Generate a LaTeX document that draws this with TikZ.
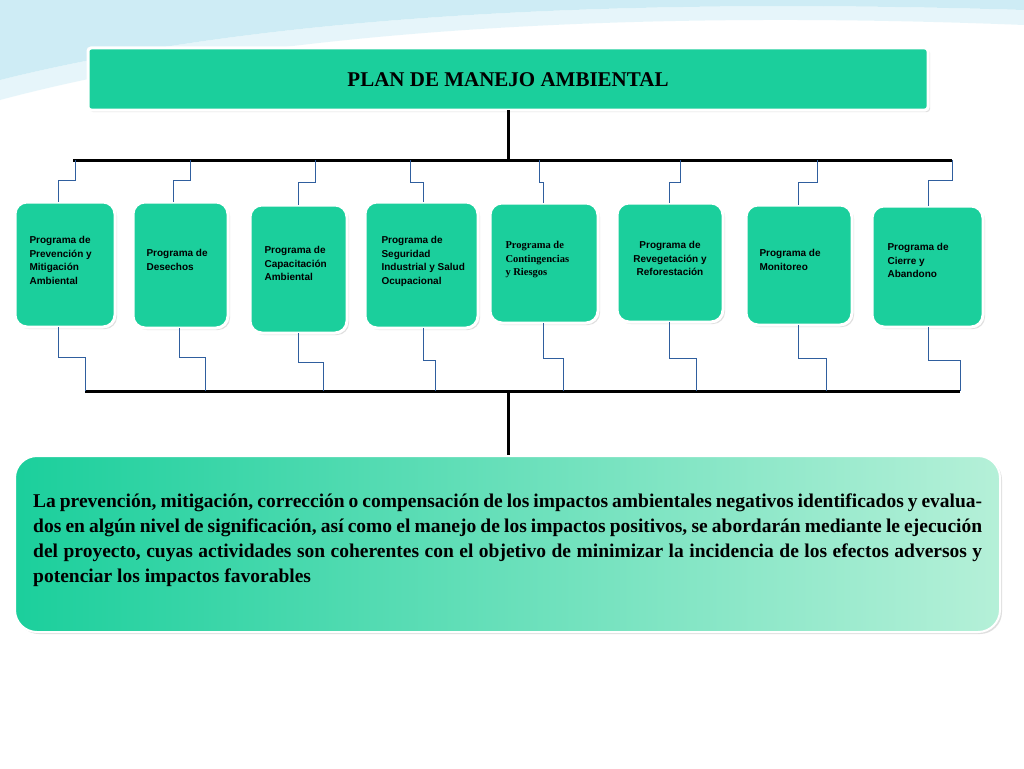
\documentclass[tikz,border=0pt]{standalone}
\usepackage{fontspec}
\setmainfont{Liberation Serif}
\newfontfamily\arialf{Liberation Sans}
\usetikzlibrary{shadows}
\definecolor{boxgreen}{HTML}{1BCF9C}
\definecolor{lightgreen}{HTML}{B5F0D8}
\definecolor{linkblue}{HTML}{2F5E9E}
\definecolor{skyblue}{HTML}{9FDBEC}

\begin{document}
\begin{tikzpicture}[
    x = 1pt,
    y = -1pt,
    prog/.style = {
      draw = white,
      line width = 3pt,
      fill = boxgreen,
      rounded corners = 12pt,
      drop shadow = {opacity = 0.25, shadow xshift = 2pt, shadow yshift = -2pt}
    },
    progtext/.style = {
      font = \arialf\bfseries\fontsize{10}{13.5}\selectfont,
      align = left,
      anchor = north west
    },
    bar/.style = {line width = 3pt},
    link/.style = {draw = linkblue, line width = 0.8pt}
  ]
  \useasboundingbox (0,0) rectangle (1024,768);
  \fill[white] (0,0) rectangle (1024,768);
  % light blue swooshes at the top
  \fill[skyblue, opacity = 0.5] (0,0) -- (1024,0) -- (1024,10) .. controls (700,0) and (300,5) .. (0,80) -- cycle;
  \fill[skyblue!50, opacity = 0.5] (0,80) .. controls (300,5) and (700,0) .. (1024,10) -- (1024,25) .. controls (700,12) and (300,20) .. (0,100) -- cycle;

  % title
  \draw[prog, rounded corners = 3pt] (88,48) rectangle (928,110);
  \node (title) at (508,80) {\bfseries\fontsize{21}{24}\selectfont PLAN DE MANEJO AMBIENTAL};

  % bars
  \coordinate (tmid) at (508,110);
  \coordinate (tbar) at (508,160);
  \coordinate (bbar) at (508,391);
  \draw[bar] (tmid) -- (tbar);
  \draw[bar] (73,160) -- (952,160);
  \draw[bar] (85,391) -- (960,391);

  % programme boxes
  \draw[prog] (15,202) rectangle (115,327);
  \draw[prog] (133,202) rectangle (228,328);
  \draw[prog] (250,205) rectangle (347,333);
  \draw[prog] (365,202) rectangle (478,328);
  \draw[prog] (490,203) rectangle (598,323);
  \draw[prog] (617,203) rectangle (723,322);
  \draw[prog] (746,205) rectangle (852,325);
  \draw[prog] (872,206) rectangle (983,327);

  \node[progtext] (p1) at (26,233) {Programa de\\Prevención y\\Mitigación\\Ambiental};
  \node[progtext] (p2) at (143,246) {Programa de\\Desechos};
  \node[progtext] (p3) at (261,243) {Programa de\\Capacitación\\Ambiental};
  \node[progtext] (p4) at (378,233) {Programa de\\Seguridad\\Industrial  y Salud\\Ocupacional};
  \node[progtext, font = \bfseries\fontsize{10.5}{13.5}\selectfont] (p5) at (502,238) {Programa de\\Contingencias\\y Riesgos};
  \node[progtext, align = center, anchor = north] (p6) at (670,238) {Programa de\\Revegetación y\\Reforestación};
  \node[progtext] (p7) at (756,246) {Programa de\\Monitoreo};
  \node[progtext] (p8) at (884,240) {Programa de\\Cierre y\\Abandono};

  % links from the top bar
  \draw[link] (75,160) -- (75,180) -- (58,180) -- (58,202);
  \draw[link] (190,160) -- (190,180) -- (173,180) -- (173,202);
  \draw[link] (315,160) -- (315,182) -- (298,182) -- (298,205);
  \draw[link] (410,160) -- (410,182) -- (423,182) -- (423,202);
  \draw[link] (539,160) -- (539,182) -- (543,182) -- (543,203);
  \draw[link] (680,160) -- (680,182) -- (669,182) -- (669,203);
  \draw[link] (817,160) -- (817,182) -- (798,182) -- (798,205);
  \draw[link] (952,160) -- (952,180) -- (928,180) -- (928,206);

  % links to the bottom bar
  \draw[link] (58,327) -- (58,357) -- (85,357) -- (85,391);
  \draw[link] (179,328) -- (179,357) -- (205,357) -- (205,391);
  \draw[link] (298,333) -- (298,362) -- (323,362) -- (323,391);
  \draw[link] (423,328) -- (423,360) -- (435,360) -- (435,391);
  \draw[link] (543,323) -- (543,358) -- (563,358) -- (563,391);
  \draw[link] (669,322) -- (669,358) -- (696,358) -- (696,391);
  \draw[link] (798,325) -- (798,358) -- (826,358) -- (826,391);
  \draw[link] (928,327) -- (928,360) -- (960,360) -- (960,391);

  % summary
  \coordinate (sumtop) at (508,456);
  \draw[bar] (bbar) -- (sumtop);
  \shade[left color = boxgreen, right color = lightgreen, rounded corners = 22pt,
    drop shadow = {opacity = 0.25, shadow xshift = 2pt, shadow yshift = -2pt}]
    (15,456) rectangle (1000,632);
  \draw[white, line width = 2pt, rounded corners = 22pt] (15,456) rectangle (1000,632);
  \node[anchor = north west, text width = 949pt, align = justify, inner sep = 0pt,
    font = \bfseries\fontsize{19.5}{25}\selectfont] (summary) at (33,494)
    {\hyphenpenalty=10000 \exhyphenpenalty=10000 La prevención, mitigación, corrección o compensación de los impactos ambientales negativos identificados y evaluados en algún nivel de significación, así como el manejo de los impactos positivos, se abordarán mediante le ejecución del proyecto, cuyas actividades son coherentes con el objetivo de minimizar la incidencia de los efectos adversos y potenciar los impactos favorables};
\end{tikzpicture}
\end{document}
